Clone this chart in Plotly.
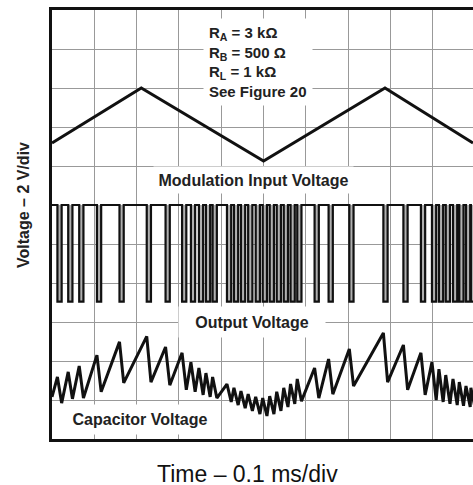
import plotly.graph_objects as go

# Time in divisions (0.1 ms/div), voltage in divisions (2 V/div)
mod_time = [0.0, 2.11, 5.0, 7.87, 9.95]
mod_volt = [7.59, 9.0, 7.13, 9.0, 7.59]

# Output voltage: centres of the low pulses
pulse_time = [0.178, 0.433, 0.693, 1.112, 1.645, 2.289, 2.734, 3.124, 3.333, 3.522,
              3.688, 3.846, 4.185, 4.350, 4.516, 4.686, 4.864, 5.030, 5.195, 5.361,
              5.527, 5.688, 5.846, 6.256, 6.587, 7.077, 7.882, 8.355, 8.769, 9.030,
              9.195, 9.356, 9.527, 9.676, 9.834, 9.950]
out_high = 6.0
out_low = 3.52
pulse_width = 0.1

# Capacitor voltage: peak just before each discharge, trough just after
cap_start = 1.08
cap_peak = [1.59, 1.72, 1.87, 2.15, 2.49, 2.63, 2.36, 2.21, 1.97, 1.82,
            1.69, 1.59, 1.41, 1.31, 1.23, 1.15, 1.08, 1.05, 1.10, 1.21,
            1.31, 1.41, 1.54, 1.82, 2.05, 2.31, 2.72, 2.41, 2.21, 1.97,
            1.79, 1.64, 1.54, 1.46, 1.36, 1.31]
cap_trough = [0.92, 1.03, 1.05, 1.21, 1.44, 1.46, 1.38, 1.26, 1.21, 1.13,
              1.08, 1.05, 0.95, 0.87, 0.79, 0.72, 0.64, 0.59, 0.64, 0.72,
              0.82, 0.90, 0.97, 1.05, 1.15, 1.36, 1.46, 1.26, 1.13, 1.00,
              0.95, 0.90, 0.87, 0.85, 0.82, 0.79]

x_max = 9.95
y_max = 11

hw = pulse_width / 2
out_x, out_y = [0.0], [out_high]
for c in pulse_time:
    out_x += [c - hw, c - hw, c + hw, c + hw]
    out_y += [out_high, out_low, out_low, out_high]
out_x.append(x_max)
out_y.append(out_high)

cap_x, cap_y = [0.0], [cap_start]
for c, hi, lo in zip(pulse_time, cap_peak, cap_trough):
    cap_x += [c - hw, c + hw]
    cap_y += [hi, lo]

fig = go.Figure()
fig.add_trace(go.Bar(x=pulse_time, y=[out_high - out_low] * len(pulse_time), base=out_low,
                     width=pulse_width, marker=dict(color="#b0b0b0", line=dict(width=0)),
                     hoverinfo="skip"))
fig.add_trace(go.Scatter(x=out_x, y=out_y, mode="lines",
                         line=dict(color="#111111", width=2.2)))
fig.add_trace(go.Scatter(x=mod_time, y=mod_volt, mode="lines",
                         line=dict(color="#111111", width=3)))
fig.add_trace(go.Scatter(x=cap_x, y=cap_y, mode="lines",
                         line=dict(color="#111111", width=3)))

lab_font = dict(family="Liberation Sans", size=16, color="#222222")
ann = []
ann.append(dict(x=4.77, y=6.64, xref="x", yref="y", text="<b>Modulation Input Voltage</b>",
                showarrow=False, font=lab_font, bgcolor="white", width=197, height=24))
ann.append(dict(x=4.73, y=3.0, xref="x", yref="y", text="<b>Output Voltage</b>",
                showarrow=False, font=lab_font, bgcolor="white", width=144, height=28))
ann.append(dict(x=2.08, y=0.51, xref="x", yref="y", text="<b>Capacitor Voltage</b>",
                showarrow=False, font=lab_font, bgcolor="white", width=152, height=27))
ann.append(dict(x=3.574, y=9.67, xref="x", yref="y", xanchor="left", align="left",
                text="<b>R<sub>A</sub> = 3 kΩ<br>R<sub>B</sub> = 500 Ω<br>R<sub>L</sub> = 1 kΩ<br>See Figure 20</b>",
                showarrow=False, font=dict(family="Liberation Sans", size=15, color="#222222"),
                bgcolor="white", borderpad=5))
ann.append(dict(x=-0.0665, y=0.5455, xref="paper", yref="paper", textangle=-90,
                xanchor="center", yanchor="middle",
                text="<b>Voltage – 2 V/div</b>", showarrow=False, font=lab_font))
ann.append(dict(x=0.4644, y=-0.0816, xref="paper", yref="paper",
                xanchor="center", yanchor="middle",
                text="Time – 0.1 ms/div", showarrow=False,
                font=dict(family="Liberation Sans", size=23, color="#111111")))

fig.update_layout(
    width=473, height=485,
    margin=dict(l=52, r=0, t=10, b=46),
    paper_bgcolor="white", plot_bgcolor="white",
    showlegend=False, bargap=0,
    annotations=ann,
    xaxis=dict(range=[0, x_max], dtick=1, tick0=0, showgrid=True, gridcolor="#999999",
               gridwidth=1.3, zeroline=False, showticklabels=False, ticks="",
               showline=True, linecolor="#111111", linewidth=2.5, mirror=True),
    yaxis=dict(range=[0, y_max], dtick=1, tick0=0, showgrid=True, gridcolor="#999999",
               gridwidth=1.3, zeroline=False, showticklabels=False, ticks="",
               showline=True, linecolor="#111111", linewidth=2.5, mirror=False),
)

fig.write_html("out.html", config={"displayModeBar": False},
               post_script="document.body.style.margin='0';")
